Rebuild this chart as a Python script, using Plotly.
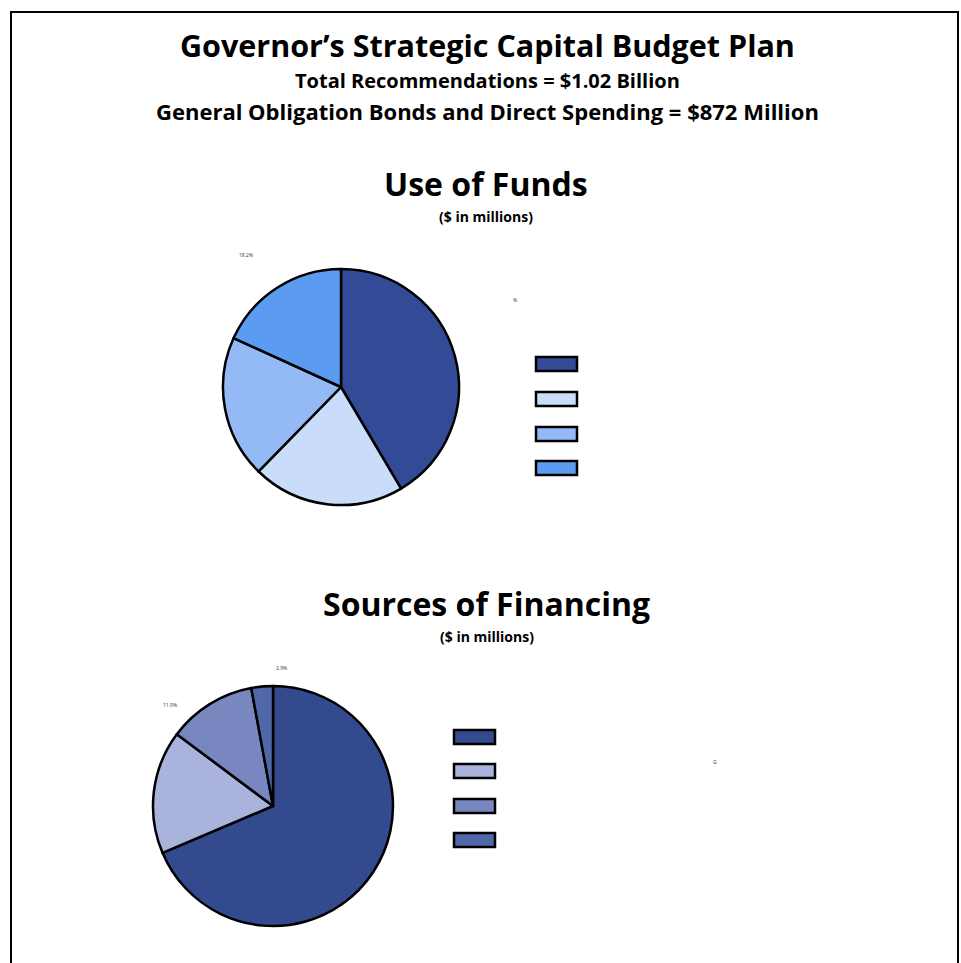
import plotly.graph_objects as go

W, H = 961, 963

# ---- data (percent of total) ----
use_labels = ["Use 1", "Use 2", "Use 3", "Use 4"]
use_values = [41.5, 20.8, 19.5, 18.2]
use_colors = ["#334A96", "#C9DDFA", "#94BAF5", "#5B9BF2"]

src_labels = ["Source 1", "Source 2", "Source 3", "Source 4"]
src_values = [68.6, 16.6, 11.9, 2.9]
src_colors = ["#334A8E", "#A9B3DB", "#7887BF", "#5068A8"]

title_main = "Governor\u2019s Strategic Capital Budget Plan"
subtitle_1 = "Total Recommendations = $1.02 Billion"
subtitle_2 = "General Obligation Bonds and Direct Spending = $872 Million"
use_title = "Use of Funds"
src_title = "Sources of Financing"
unit_note = "($ in millions)"

FONT = "Open Sans"


def px(x):
    return x / W


def py(y):
    return 1 - y / H


fig = go.Figure()

fig.add_trace(go.Pie(
    labels=use_labels, values=use_values, sort=False, direction="clockwise",
    rotation=0, textinfo="none", hoverinfo="label+percent",
    marker=dict(colors=use_colors, line=dict(color="black", width=2.5)),
    domain=dict(x=[px(223), px(459)], y=[py(505), py(269)]),
    showlegend=False,
))

fig.add_trace(go.Pie(
    labels=src_labels, values=src_values, sort=False, direction="clockwise",
    rotation=0, textinfo="none", hoverinfo="label+percent",
    marker=dict(colors=src_colors, line=dict(color="black", width=2.5)),
    domain=dict(x=[px(153), px(393)], y=[py(926), py(686)]),
    showlegend=False,
))

shapes = [
    # outer frame
    dict(type="rect", xref="paper", yref="paper",
         x0=px(11), x1=px(958), y0=py(975), y1=py(12),
         line=dict(color="black", width=2), fillcolor="rgba(0,0,0,0)"),
]

# legend swatches (no text in the reference)
use_leg_y = [364, 399, 434, 468]
for c, yc in zip(use_colors, use_leg_y):
    shapes.append(dict(type="rect", xref="paper", yref="paper",
                       x0=px(536), x1=px(577), y0=py(yc + 7), y1=py(yc - 7),
                       fillcolor=c, line=dict(color="black", width=2.5)))
src_leg_y = [737, 771, 806, 840]
for c, yc in zip(src_colors, src_leg_y):
    shapes.append(dict(type="rect", xref="paper", yref="paper",
                       x0=px(454), x1=px(495), y0=py(yc + 7), y1=py(yc - 7),
                       fillcolor=c, line=dict(color="black", width=2.5)))


def ann(text, x, y, size, color="black", bold=True):
    t = f"<b>{text}</b>" if bold else text
    return dict(text=t, x=px(x), y=py(y), xref="paper", yref="paper",
                showarrow=False, xanchor="center", yanchor="middle",
                font=dict(family=FONT, size=size, color=color))


annotations = [
    ann(title_main, 487, 45, 30.5),
    ann(subtitle_1, 487, 80, 20),
    ann(subtitle_2, 487, 111, 22),
    ann(use_title, 486, 184, 32),
    ann(unit_note, 486, 216, 14),
    ann(src_title, 486, 603, 32),
    ann(unit_note, 487, 636, 14),
    # tiny, nearly illegible data labels
    ann(f"{use_values[3]:.1f}%", 246, 255, 5, "#333", False),
    ann("%", 515, 300, 5, "#333", False),
    ann(f"{src_values[3]:.1f}%", 281, 668, 5, "#333", False),
    ann(f"{src_values[2]:.1f}%", 170, 705, 5, "#333", False),
    ann("G", 715, 762, 5, "#333", False),
]

fig.update_layout(
    width=W, height=H,
    margin=dict(l=0, r=0, t=0, b=0),
    paper_bgcolor="white", plot_bgcolor="white",
    shapes=shapes, annotations=annotations,
    showlegend=False,
)

fig.write_html("out.html", config={"displayModeBar": False},
               post_script="document.body.style.margin='0';document.body.style.overflow='hidden';")
